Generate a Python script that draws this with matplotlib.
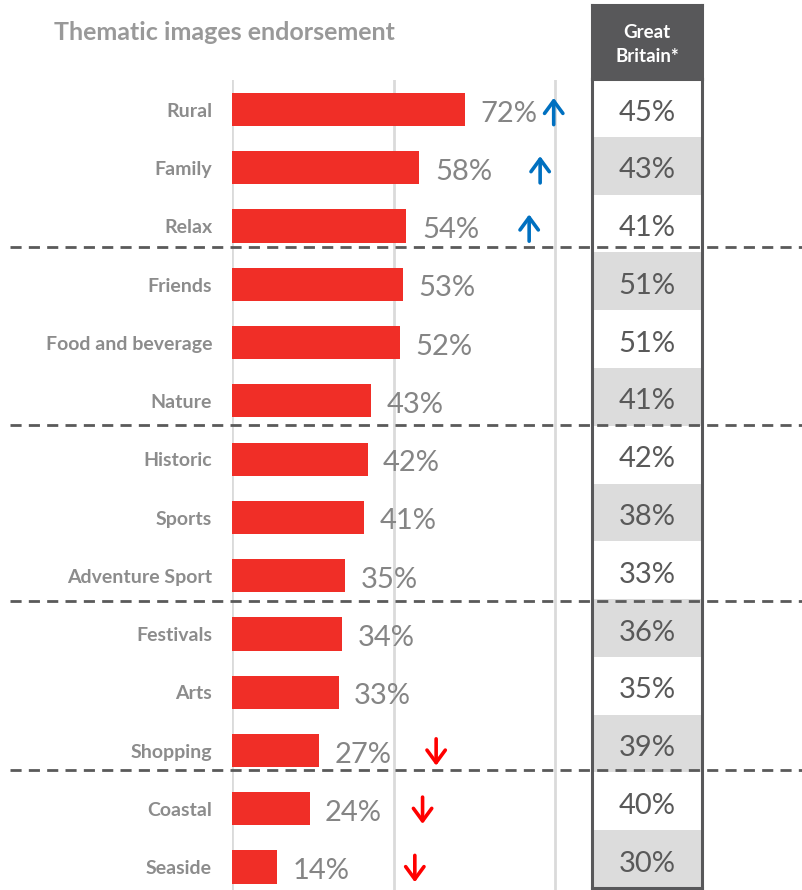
import matplotlib
matplotlib.use("Agg")
import matplotlib.pyplot as plt
from matplotlib import transforms
from matplotlib.lines import Line2D

plt.rcParams['font.family'] = ['Lato', 'DejaVu Sans']

categories = ["Rural", "Family", "Relax", "Friends", "Food and beverage", "Nature",
              "Historic", "Sports", "Adventure Sport", "Festivals", "Arts", "Shopping",
              "Coastal", "Seaside"]
values = [72, 58, 54, 53, 52, 43, 42, 41, 35, 34, 33, 27, 24, 14]
gb_values = [45, 43, 41, 51, 51, 41, 42, 38, 33, 36, 35, 39, 40, 30]
trend = ["up", "up", "up", None, None, None, None, None, None, None, None, "down", "down", "down"]
arrow_x = [99.6, 95.4, 92.0, None, None, None, None, None, None, None, None, 63.2, 59.0, 56.6]
title = "Thematic images endorsement"
table_header = "Great\nBritain*"

W, H = 802, 890
fig = plt.figure(figsize=(W / 100, H / 100), dpi=100)

def fig_rect(x0, y0, x1, y1):
    return [x0 / W, 1 - y1 / H, (x1 - x0) / W, (y1 - y0) / H]

RED = "#F02E27"
GRID = "#DADADA"
LABEL = "#8C8C8C"
VAL = "#858585"
DARK = "#58585A"

# ---- bar axes
ax = fig.add_axes(fig_rect(232, 80, 590, 890))
n = len(categories)
ypos = list(range(n))
ax.barh(ypos, values, height=0.57, color=RED, zorder=2)
ax.set_xlim(0, 358 / 3.23)
ax.set_ylim(13.394, -0.506)
for gx in [0, 50, 100]:
    ax.axvline(gx, color=GRID, lw=2, zorder=1)
for s in ax.spines.values():
    s.set_visible(False)
ax.set_xticks([])
ax.set_yticks([])
ax.patch.set_alpha(0)

for i, (c, v) in enumerate(zip(categories, values)):
    ax.text(v + 4.8, i + 0.07, f"{v}%", va="center", ha="left", fontsize=21, color=VAL)
    ax.text(-20 / 3.23, i + 0.03, c, va="center", ha="right", fontsize=14,
            fontweight="bold", color=LABEL)
    if trend[i] is not None:
        col = "#0070C0" if trend[i] == "up" else "#FF0000"
        if trend[i] == "up":
            start, end = i + 0.26, i - 0.2
        else:
            start, end = i - 0.2, i + 0.26
        ax.annotate("", xy=(arrow_x[i], end), xytext=(arrow_x[i], start),
                    arrowprops=dict(arrowstyle="->,head_length=0.45,head_width=0.33",
                                    color=col, lw=2.6, mutation_scale=20,
                                    shrinkA=0, shrinkB=0))

# ---- title
fig.text(54 / W, 1 - 33 / H, title, ha="left", va="center", fontsize=18,
         fontweight="bold", color="#999999")

# ---- table
tax = fig.add_axes(fig_rect(592, 79, 702, 888))
tax.set_xlim(0, 1)
tax.set_ylim(n, 0)
cell_colors = ["white" if i % 2 == 0 else "#DCDCDC" for i in range(n)]
tax.barh([i + 0.5 for i in range(n)], [1] * n, height=1.0, left=0,
         color=cell_colors, zorder=1)
for i, g in enumerate(gb_values):
    tax.text(0.5, i + 0.58, f"{g}%", ha="center", va="center", fontsize=21, color="#595959")
tax.set_xticks([])
tax.set_yticks([])
for k, s in tax.spines.items():
    s.set_color(DARK)
    s.set_linewidth(2.2)
tax.spines["top"].set_visible(False)

hax = fig.add_axes(fig_rect(592, 5, 702, 79))
hax.set_facecolor(DARK)
hax.set_xticks([])
hax.set_yticks([])
for s in hax.spines.values():
    s.set_color(DARK)
    s.set_linewidth(2.2)
hax.text(0.5, 0.47, table_header, ha="center", va="center", fontsize=13.5,
         fontweight="bold", color="white", linespacing=1.5, transform=hax.transAxes)

# ---- dashed separators
blend = transforms.blended_transform_factory(fig.transFigure, tax.transData)
for yv in [2.91, 5.99, 9.03, 11.95]:
    fig.add_artist(Line2D([10 / W, 1.0], [yv, yv], transform=blend, color="#5A5A5A",
                          lw=2, linestyle=(0, (4, 2.6)), zorder=10))

fig.savefig("out.png", dpi=100)
